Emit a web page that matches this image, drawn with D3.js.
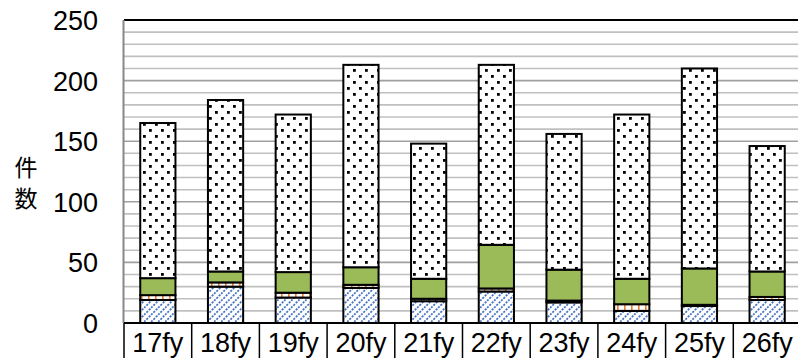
<!DOCTYPE html>
<html>
<head>
<meta charset="utf-8">
<script src="https://cdn.jsdelivr.net/npm/d3@7"></script>
<style>
  body { margin: 0; background: #fff; }
  svg { display: block; }
</style>
</head>
<body>
<div id="chart"></div>
<script>
// Data
var years = ["17fy", "18fy", "19fy", "20fy", "21fy", "22fy", "23fy", "24fy", "25fy", "26fy"];
var blueVals = [19, 30, 21, 29, 18, 26, 17, 10, 14, 19];
var orangeVals = [4, 3.5, 4, 2.5, 2, 2.5, 1.5, 5.5, 1, 2.5];
var greenVals = [14, 9, 17, 14.5, 16.5, 36, 25.5, 21, 30, 21];
var dotVals = [128, 141.5, 130, 167, 111.5, 148.5, 112, 135.5, 165, 103.5];
var yTicks = [0, 50, 100, 150, 200, 250];

var width = 798, height = 358;
var margin = { top: 20, right: -3, bottom: 35, left: 124 };
var innerWidth = width - margin.left - margin.right;
var innerHeight = height - margin.top - margin.bottom;

var svgRoot = d3.select("#chart").append("svg")
    .attr("width", width)
    .attr("height", height);

// Fill patterns
var defs = svgRoot.append("defs");

var pBlue = defs.append("pattern").attr("id", "pBlue")
    .attr("patternUnits", "userSpaceOnUse").attr("width", 7).attr("height", 7);
pBlue.append("rect").attr("width", 7).attr("height", 7).attr("fill", "#fff");
pBlue.append("path").attr("d", "M-1,8 L8,-1 M-1,1 L1,-1 M6,8 L8,6")
    .attr("stroke", "#4472c4").attr("stroke-width", 1.7).attr("stroke-dasharray", "2.2,1.2");

var pOrange = defs.append("pattern").attr("id", "pOrange")
    .attr("patternUnits", "userSpaceOnUse").attr("width", 7).attr("height", 4);
pOrange.append("rect").attr("width", 7).attr("height", 4).attr("fill", "#fff");
pOrange.append("rect").attr("x", 3).attr("y", 0).attr("width", 1.6).attr("height", 4).attr("fill", "#ed7d31");

var pDots = defs.append("pattern").attr("id", "pDots")
    .attr("patternUnits", "userSpaceOnUse").attr("width", 12).attr("height", 12);
pDots.append("rect").attr("width", 12).attr("height", 12).attr("fill", "#fff");
pDots.append("rect").attr("x", 1).attr("y", 1).attr("width", 2.8).attr("height", 2.8).attr("fill", "#000");
pDots.append("rect").attr("x", 7).attr("y", 7).attr("width", 2.8).attr("height", 2.8).attr("fill", "#000");

var svg = svgRoot.append("g")
    .attr("transform", `translate(${margin.left}, ${margin.top})`);

var x = d3.scaleBand()
    .domain(years)
    .range([0, innerWidth])
    .paddingInner(0.48)
    .paddingOuter(0.24);

var y = d3.scaleLinear()
    .domain([0, 250])
    .range([innerHeight, 0]);

// Gridlines every 10
svg.selectAll(".grid")
    .data(d3.range(10, 250, 10))
    .enter()
    .append("line")
    .attr("x1", 0)
    .attr("x2", innerWidth)
    .attr("y1", d => y(d))
    .attr("y2", d => y(d))
    .attr("stroke", d => d % 50 === 0 ? "#a0a0a0" : "#c0c0c0")
    .attr("stroke-width", 1.6);

// top border
svg.append("line")
    .attr("x1", 0).attr("x2", innerWidth)
    .attr("y1", y(250)).attr("y2", y(250))
    .attr("stroke", "#000").attr("stroke-width", 2);

// left axis line
svg.append("line")
    .attr("x1", -0.5).attr("x2", -0.5)
    .attr("y1", y(250)).attr("y2", innerHeight)
    .attr("stroke", "#888").attr("stroke-width", 2);

// Stacked bars
var rows = years.map((yr, i) => ({
    year: yr, blue: blueVals[i], orange: orangeVals[i], green: greenVals[i], dots: dotVals[i]
}));
var keys = ["blue", "orange", "green", "dots"];
var fills = { blue: "url(#pBlue)", orange: "url(#pOrange)", green: "#9bbb59", dots: "url(#pDots)" };
var stacked = d3.stack().keys(keys)(rows);

svg.selectAll(".layer")
    .data(stacked)
    .enter()
    .append("g")
    .attr("fill", d => fills[d.key])
    .selectAll("rect")
    .data(d => d)
    .enter()
    .append("rect")
    .attr("x", d => x(d.data.year))
    .attr("y", d => y(d[1]))
    .attr("width", x.bandwidth())
    .attr("height", d => y(d[0]) - y(d[1]))
    .attr("stroke", "#000")
    .attr("stroke-width", 2);

// Y tick labels
svg.selectAll(".ytick")
    .data(yTicks)
    .enter()
    .append("text")
    .attr("x", -26)
    .attr("y", d => y(d) + 10)
    .attr("text-anchor", "end")
    .attr("font-family", "Liberation Sans, Arial, sans-serif")
    .attr("font-size", "27px")
    .attr("fill", "#000")
    .text(d => d);

// Category table at the bottom
svg.append("line")
    .attr("x1", 0).attr("x2", innerWidth)
    .attr("y1", innerHeight).attr("y2", innerHeight)
    .attr("stroke", "#000").attr("stroke-width", 2);

svg.selectAll(".divider")
    .data(d3.range(years.length + 1))
    .enter()
    .append("line")
    .attr("x1", i => i * x.step())
    .attr("x2", i => i * x.step())
    .attr("y1", innerHeight)
    .attr("y2", innerHeight + 40)
    .attr("stroke", "#000")
    .attr("stroke-width", 1.5);

svg.selectAll(".xlabel")
    .data(years)
    .enter()
    .append("text")
    .attr("x", d => x(d) + x.bandwidth() / 2)
    .attr("y", innerHeight + 29)
    .attr("text-anchor", "middle")
    .attr("font-family", "Liberation Sans, Arial, sans-serif")
    .attr("font-size", "27px")
    .attr("fill", "#000")
    .text(d => d);

// Vertical y-axis title
var title = ["件", "数"];
svgRoot.selectAll(".ytitle")
    .data(title)
    .enter()
    .append("text")
    .attr("x", 26)
    .attr("y", (d, i) => 176 + i * 31)
    .attr("text-anchor", "middle")
    .attr("font-family", "Noto Sans CJK JP, sans-serif")
    .attr("font-size", "23px")
    .attr("fill", "#000")
    .text(d => d);
</script>
</body>
</html>
